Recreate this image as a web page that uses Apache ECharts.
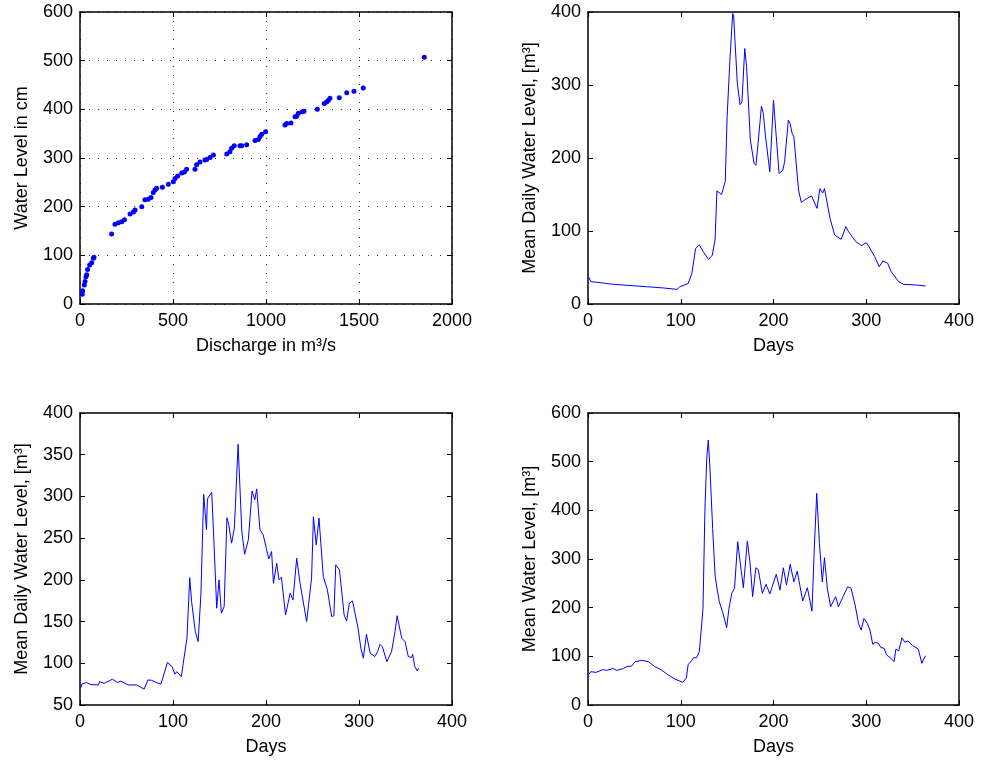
<!DOCTYPE html>
<html><head><meta charset="utf-8">
<script src="https://cdn.jsdelivr.net/npm/echarts/dist/echarts.min.js"></script>
<style>html,body{margin:0;padding:0;background:#fff}#c{width:982px;height:761px}</style>
</head><body><div id="c"></div>
<script>
// ---- Panel 1: rating curve (scatter) ----
const discharge = [12,14,23,27,32,36,41,52,63,72,75,170,188,206,224,239,269,287,296,332,349,367,382,394,403,412,443,475,502,511,525,547,561,573,618,627,645,672,681,699,717,789,806,815,829,860,869,896,941,959,968,977,998,1102,1111,1134,1156,1165,1174,1195,1204,1276,1313,1326,1335,1344,1394,1434,1473,1523,1851];
const waterLevel = [20,27,39,46,56,60,71,80,85,94,96,144,164,167,169,173,185,189,193,200,214,215,219,229,234,238,240,246,251,258,263,269,271,277,277,286,292,296,297,301,306,308,313,320,325,325,325,327,336,338,344,349,354,368,371,372,385,386,392,395,396,400,412,415,418,423,424,434,437,444,507];

// ---- Panel 2: mean daily water level (top right) ----
const daysA = [1,3,8,27,63,81,96,99,108,112,116,120,124,130,134,137,139,144,148,150,153,156,157,161,164,166,169,171,175,179,181,183,187,189,191,196,200,203,206,210,212,216,218,220,222,227,230,234,241,247,250,253,255,261,266,273,278,281,289,295,300,303,309,314,318,323,327,335,340,354,364];
const levelA = [36.5,30.6,30,27,23.7,22,20,23.7,28,42,76,81,72,61,67,88,155,150,168,257,334,398,395,302,273,277,350,325,225,193,190,215,271,261,234,181,279,229,179,183,195,252,247,234,229,156,139,143,148,131,158,152,158,117,94.5,88.6,106,99,85,80,84,78.5,65,51,59,56,44,30.5,27,26,24.7];

// ---- Panel 3: mean daily water level (bottom left) ----
const daysB = [1,2,7,11,20,21,26,35,40,44,52,61,69,73,77,82,87,90,94,99,102,104,109,111,115,118,120,124,127,130,133,135,136,137,139,141.6,144,147,149.5,152,155,158,160,163,166,170,174,177,181,185,188,190,193.5,197,200.7,203,206,208,211.5,214,216.6,221,226,229,233,236.6,243.7,249,251,254,257,261.6,266,270.6,273,275,279,284,286.7,289.6,293,299,302,304.7,308,312,317,320,322.6,325,330,335,338.7,341,343,346,349.5,353,356.6,357.7,360,362.7,364];
const levelB = [70.7,75,77,74.6,74,78,76,81,77,78.6,74,74,69,80,79.6,77,75,86,101,96,87,90,84,100,130,202.6,174,138,126,182,302.5,302,260,297,298,305,246,166,200,160,168,274.5,266,244,262,362.5,258,230.6,248,306.5,296,309,260,254,236,225,234,196,220,200,203,158,184,176,226,196,150,202,275.7,242,274,204,188,156,157,218,212,158,150.6,172,174.7,142,118,106,134.7,112,108,114,122.7,120,102,114,138,157,156,130,126,108,107,110.7,96,90.8,94];

// ---- Panel 4: mean water level (bottom right) ----
const daysC = [1,3,8.6,16.5,20,27,31,38,42,47,50.7,58,65,72,79,86.6,93.7,102,106,108,111,113.6,117,120,121.6,124,126,128,129.7,131.5,134.4,137,138.5,141.6,145,149.5,152,155,158,161.4,164,167.5,171.8,174.6,177.5,181,183.6,188,192,196,198.6,203,207,210.6,214,218,222,225.6,231.5,236.5,241.5,244,246.6,249.5,252.6,255,258,261.6,267,270,272,275,277,280,283.6,288,291.6,294.5,297.6,301,304,307,309.6,313,315.8,319,322,326.7,330,332,335,338.5,341.7,345,350,356,360,362,364];
const levelC = [63,68.5,67,73,71,75,71,75,79,80,89,91.7,89,79,72,61.6,53.4,46.6,55,83.6,89,97,97,109.6,144,198.6,397,507,544.5,486,363,267,246.6,212,192,159,198.6,229.5,240,335.6,294,241,337,294,222.6,282,278,229.5,248,228,243,268.6,236,282,246.6,289,253,275,213.7,241,193,322,435,332,253,302.7,240,202,222.6,202,202,222.6,221,243,240,205.5,168,154,178,168,154,124.7,128.8,127,117.8,117,102.7,96,89,115,111,138,128.8,131.5,122,115,85.7,94.5,101];

// ---- axis tick settings ----
const ticksDischarge = {min: 0, max: 2000, interval: 500};
const ticksLevelCm = {min: 0, max: 600, interval: 100};
const ticksDays = {min: 0, max: 400, interval: 100};
const ticksA = {min: 0, max: 400, interval: 100};
const ticksB = {min: 50, max: 400, interval: 50};
const ticksC = {min: 0, max: 600, interval: 100};

const FONT = "'Liberation Sans', Arial, Helvetica, sans-serif";
const FS = 18;
const BLUE = '#0000ff';

function pairs(xs, ys) { return xs.map((x, i) => [x, ys[i]]); }
const plain = v => String(v);

const grids = [
  {left: 80, top: 12, width: 372, height: 292},
  {left: 588, top: 12, width: 371, height: 292},
  {left: 80, top: 413, width: 372, height: 292},
  {left: 588, top: 413, width: 371, height: 292}
];

const lineAx = {show: true, onZero: false, lineStyle: {color: '#000', width: 1.5}};
const tickAx = {show: true, inside: true, length: 5, lineStyle: {color: '#000', width: 1}};
const gridDots = {show: true, lineStyle: {color: '#333', width: 1, type: [1, 8]}};

function mainX(gi, t, name, grid) {
  return Object.assign({
    type: 'value', gridIndex: gi, position: 'bottom',
    name: name, nameLocation: 'middle', nameGap: 33,
    nameTextStyle: {fontFamily: FONT, fontSize: FS, color: '#000'},
    axisLine: lineAx, axisTick: tickAx,
    axisLabel: {fontFamily: FONT, fontSize: FS, color: '#000', margin: 8, formatter: plain},
    splitLine: grid ? gridDots : {show: false}
  }, t);
}
function mirrorX(gi, t) {
  return Object.assign({
    type: 'value', gridIndex: gi, position: 'top',
    axisLine: lineAx, axisTick: tickAx, axisLabel: {show: false}, splitLine: {show: false}
  }, t);
}
function mainY(gi, t, name, grid) {
  return Object.assign({
    type: 'value', gridIndex: gi, position: 'left',
    name: name, nameLocation: 'middle', nameGap: 49, nameRotate: 90,
    nameTextStyle: {fontFamily: FONT, fontSize: FS, color: '#000'},
    axisLine: lineAx, axisTick: tickAx,
    axisLabel: {fontFamily: FONT, fontSize: FS, color: '#000', margin: 7, formatter: plain},
    splitLine: grid ? gridDots : {show: false}
  }, t);
}
function mirrorY(gi, t) {
  return Object.assign({
    type: 'value', gridIndex: gi, position: 'right',
    axisLine: lineAx, axisTick: tickAx, axisLabel: {show: false}, splitLine: {show: false}
  }, t);
}

const xAxis = [
  mainX(0, ticksDischarge, 'Discharge in m³/s', true),
  mainX(1, ticksDays, 'Days', false),
  mainX(2, ticksDays, 'Days', false),
  mainX(3, ticksDays, 'Days', false),
  mirrorX(0, ticksDischarge), mirrorX(1, ticksDays), mirrorX(2, ticksDays), mirrorX(3, ticksDays)
];
const yAxis = [
  mainY(0, ticksLevelCm, 'Water Level in cm', true),
  mainY(1, ticksA, 'Mean Daily Water Level, [m³]', false),
  mainY(2, ticksB, 'Mean Daily Water Level, [m³]', false),
  mainY(3, ticksC, 'Mean Water Level, [m³]', false),
  mirrorY(0, ticksLevelCm), mirrorY(1, ticksA), mirrorY(2, ticksB), mirrorY(3, ticksC)
];

const lineStyle = {color: BLUE, width: 1};
const series = [
  {type: 'scatter', xAxisIndex: 0, yAxisIndex: 0, data: pairs(discharge, waterLevel),
   symbol: 'circle', symbolSize: 5, itemStyle: {color: BLUE, opacity: 1}},
  {type: 'line', xAxisIndex: 1, yAxisIndex: 1, data: pairs(daysA, levelA), showSymbol: false,
   lineStyle: lineStyle, itemStyle: {color: BLUE}},
  {type: 'line', xAxisIndex: 2, yAxisIndex: 2, data: pairs(daysB, levelB), showSymbol: false,
   lineStyle: lineStyle, itemStyle: {color: BLUE}},
  {type: 'line', xAxisIndex: 3, yAxisIndex: 3, data: pairs(daysC, levelC), showSymbol: false,
   lineStyle: lineStyle, itemStyle: {color: BLUE}}
];

const chart = echarts.init(document.getElementById('c'), null, {renderer: 'canvas'});
chart.setOption({
  animation: false,
  backgroundColor: '#fff',
  grid: grids,
  xAxis: xAxis,
  yAxis: yAxis,
  series: series
});
</script>
</body></html>
